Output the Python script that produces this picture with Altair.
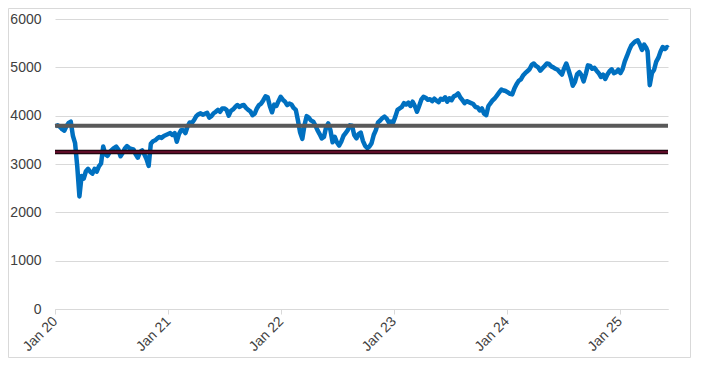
import altair as alt
import pandas as pd

dates = [
    "2020-01-03", "2020-01-10", "2020-01-17", "2020-01-24", "2020-01-31", "2020-02-07", "2020-02-14", "2020-02-21",
    "2020-02-28", "2020-03-06", "2020-03-13", "2020-03-20", "2020-03-27", "2020-04-03", "2020-04-10", "2020-04-17",
    "2020-04-24", "2020-05-01", "2020-05-08", "2020-05-15", "2020-05-22", "2020-05-29", "2020-06-05", "2020-06-12",
    "2020-06-19", "2020-06-26", "2020-07-03", "2020-07-10", "2020-07-17", "2020-07-24", "2020-07-31", "2020-08-07",
    "2020-08-14", "2020-08-21", "2020-08-28", "2020-09-04", "2020-09-11", "2020-09-18", "2020-09-25", "2020-10-02",
    "2020-10-09", "2020-10-16", "2020-10-23", "2020-10-30", "2020-11-06", "2020-11-13", "2020-11-20", "2020-11-27",
    "2020-12-04", "2020-12-11", "2020-12-18", "2020-12-25",
    "2021-01-01", "2021-01-08", "2021-01-15", "2021-01-22", "2021-01-29", "2021-02-05", "2021-02-12", "2021-02-19",
    "2021-02-26", "2021-03-05", "2021-03-12", "2021-03-19", "2021-03-26", "2021-04-02", "2021-04-09", "2021-04-16",
    "2021-04-23", "2021-04-30", "2021-05-07", "2021-05-14", "2021-05-21", "2021-05-28", "2021-06-04", "2021-06-11",
    "2021-06-18", "2021-06-25", "2021-07-02", "2021-07-09", "2021-07-16", "2021-07-23", "2021-07-30", "2021-08-06",
    "2021-08-13", "2021-08-20", "2021-08-27", "2021-09-03", "2021-09-10", "2021-09-17", "2021-09-24", "2021-10-01",
    "2021-10-08", "2021-10-15", "2021-10-22", "2021-10-29", "2021-11-05", "2021-11-12", "2021-11-19", "2021-11-26",
    "2021-12-03", "2021-12-10", "2021-12-17", "2021-12-24", "2021-12-31",
    "2022-01-07", "2022-01-14", "2022-01-21", "2022-01-28", "2022-02-04", "2022-02-11", "2022-02-18", "2022-02-25",
    "2022-03-04", "2022-03-11", "2022-03-18", "2022-03-25", "2022-04-01", "2022-04-08", "2022-04-15", "2022-04-22",
    "2022-04-29", "2022-05-06", "2022-05-13", "2022-05-20", "2022-05-27", "2022-06-03", "2022-06-10", "2022-06-17",
    "2022-06-24", "2022-07-01", "2022-07-08", "2022-07-15", "2022-07-22", "2022-07-29", "2022-08-05", "2022-08-12",
    "2022-08-19", "2022-08-26", "2022-09-02", "2022-09-09", "2022-09-16", "2022-09-23", "2022-09-30", "2022-10-07",
    "2022-10-14", "2022-10-21", "2022-10-28", "2022-11-04", "2022-11-11", "2022-11-18", "2022-11-25", "2022-12-02",
    "2022-12-09", "2022-12-16", "2022-12-23", "2022-12-30",
    "2023-01-06", "2023-01-13", "2023-01-20", "2023-01-27", "2023-02-03", "2023-02-10", "2023-02-17", "2023-02-24",
    "2023-03-03", "2023-03-10", "2023-03-17", "2023-03-24", "2023-03-31", "2023-04-07", "2023-04-14", "2023-04-21",
    "2023-04-28", "2023-05-05", "2023-05-12", "2023-05-19", "2023-05-26", "2023-06-02", "2023-06-09", "2023-06-16",
    "2023-06-23", "2023-06-30", "2023-07-07", "2023-07-14", "2023-07-21", "2023-07-28", "2023-08-04", "2023-08-11",
    "2023-08-18", "2023-08-25", "2023-09-01", "2023-09-08", "2023-09-15", "2023-09-22", "2023-09-29", "2023-10-06",
    "2023-10-13", "2023-10-20", "2023-10-27", "2023-11-03", "2023-11-10", "2023-11-17", "2023-11-24", "2023-12-01",
    "2023-12-08", "2023-12-15", "2023-12-22", "2023-12-29",
    "2024-01-05", "2024-01-12", "2024-01-19", "2024-01-26", "2024-02-02", "2024-02-09", "2024-02-16", "2024-02-23",
    "2024-03-01", "2024-03-08", "2024-03-15", "2024-03-22", "2024-03-29", "2024-04-05", "2024-04-12", "2024-04-19",
    "2024-04-26", "2024-05-03", "2024-05-10", "2024-05-17", "2024-05-24", "2024-05-31", "2024-06-07", "2024-06-14",
    "2024-06-21", "2024-06-28", "2024-07-05", "2024-07-12", "2024-07-19", "2024-07-26", "2024-08-02", "2024-08-09",
    "2024-08-16", "2024-08-23", "2024-08-30", "2024-09-06", "2024-09-13", "2024-09-20", "2024-09-27", "2024-10-04",
    "2024-10-11", "2024-10-18", "2024-10-25", "2024-11-01", "2024-11-08", "2024-11-15", "2024-11-22", "2024-11-29",
    "2024-12-06", "2024-12-13", "2024-12-20", "2024-12-27",
    "2025-01-03", "2025-01-10", "2025-01-17", "2025-01-24", "2025-01-31", "2025-02-07", "2025-02-14", "2025-02-21",
    "2025-02-28", "2025-03-07", "2025-03-14", "2025-03-21", "2025-03-28", "2025-04-01", "2025-04-08", "2025-04-15",
    "2025-04-22", "2025-04-29", "2025-05-06", "2025-05-13", "2025-05-20", "2025-05-27", "2025-06-03", "2025-06-06",
]

values = [
    3780, 3800, 3770, 3720, 3690, 3780, 3850, 3875,
    3580, 3430, 2950, 2330, 2750, 2700, 2850, 2900,
    2840, 2800, 2900, 2840, 2950, 3010, 3360, 3200,
    3170, 3250, 3290, 3330, 3360, 3300, 3160, 3230,
    3320, 3370, 3330, 3310, 3300, 3200, 3130, 3250,
    3280, 3200, 3100, 2960, 3420, 3470, 3490, 3530,
    3560, 3540, 3580, 3600,
    3620, 3640, 3600, 3640, 3460, 3620, 3700, 3700,
    3640, 3780, 3860, 3850, 3910, 3990, 4030, 4050,
    4020, 4040, 4060, 3960, 3990, 4050, 4080, 4120,
    4080, 4150, 4150, 4120, 4000, 4100, 4130, 4180,
    4220, 4180, 4210, 4220, 4160, 4120, 4090, 4010,
    4040, 4150, 4220, 4250, 4320, 4400, 4380, 4200,
    4070, 4230, 4200, 4300, 4390,
    4330, 4290, 4220, 4250, 4230, 4160, 4120, 3900,
    3650, 3520, 3800, 3990, 3960, 3900, 3880, 3800,
    3700, 3620, 3530, 3560, 3760, 3840, 3700, 3450,
    3560, 3450, 3380, 3460, 3580, 3640, 3700, 3800,
    3790, 3600, 3530, 3620, 3650, 3480, 3380, 3330,
    3360, 3430, 3600, 3700, 3860, 3900, 3950, 3980,
    3940, 3860, 3880, 3860,
    3980, 4120, 4150, 4180, 4260, 4230, 4270, 4200,
    4290, 4200, 4080, 4200, 4330, 4390, 4370, 4330,
    4340, 4300, 4350, 4310, 4280, 4350, 4330, 4380,
    4290, 4360, 4320, 4400, 4420, 4460, 4380, 4320,
    4260, 4300, 4280, 4260, 4240, 4180, 4170, 4110,
    4150, 4040, 4010, 4200, 4260, 4320, 4360, 4420,
    4480, 4540, 4520, 4510,
    4480, 4450, 4440, 4560, 4650, 4720, 4750, 4830,
    4880, 4920, 4960, 5050, 5080, 5030, 5000, 4930,
    4980, 5030, 5080, 5070, 5020, 5000, 4970, 4950,
    4900, 4850, 4980, 5080, 4950, 4800, 4620, 4700,
    4860, 4900, 4840, 4710, 4860, 5040, 5030, 4970,
    4990, 4930, 4880, 4800, 4850, 4760, 4850, 4920,
    4960, 4880, 4900, 4950,
    4880, 4960, 5120, 5230, 5350, 5450, 5500, 5540,
    5560, 5470, 5360, 5470, 5400, 5330, 4630, 4880,
    4950, 5120, 5200, 5330, 5420, 5380, 5420, 5400,
]

levels = [3790, 3250]
year_ticks = [2020, 2021, 2022, 2023, 2024, 2025]
y_ticks = [0, 1000, 2000, 3000, 4000, 5000, 6000]

df = pd.DataFrame({"date": dates, "value": values})
lv = pd.DataFrame({"level": levels, "name": ["upper", "lower"]})

x_enc = alt.X(
    "date:T",
    title=None,
    scale=alt.Scale(
        type="utc",
        domain=[alt.DateTime(year=2020, month=1, date=1, utc=True),
                alt.DateTime(year=2025, month=6, date=6, utc=True)],
    ),
    axis=alt.Axis(
        values=[alt.DateTime(year=y, month=1, date=1, utc=True) for y in year_ticks],
        format="%b %y",
        labelAngle=-45,
        labelAlign="right",
        labelBaseline="middle",
        labelPadding=5,
        grid=False,
        domainColor="#d9d9d9",
        tickColor="#d9d9d9",
        tickSize=5,
        labelFontSize=14,
    ),
)
y_enc = alt.Y(
    "value:Q",
    title=None,
    scale=alt.Scale(domain=[0, 6000], nice=False, zero=True),
    axis=alt.Axis(
        values=y_ticks,
        format="d",
        grid=True,
        gridColor="#d9d9d9",
        gridWidth=1,
        domain=False,
        ticks=False,
        labelPadding=14,
        labelFontSize=14,
    ),
)

border = alt.Chart(pd.DataFrame({"a": [0]})).mark_rect(
    fillOpacity=0, stroke="#d9d9d9", strokeWidth=1
).encode(
    x=alt.value(-46.5), x2=alt.value(635.5), y=alt.value(-10.5), y2=alt.value(338.5)
)

line = alt.Chart(df).mark_line(
    color="#0070C0", strokeWidth=4.5, strokeJoin="round"
).encode(x=x_enc, y=y_enc)

gray = alt.Chart(lv).transform_filter("datum.name == 'upper'").mark_rule(
    color="#595959", strokeWidth=4
).encode(y="level:Q")

red_under = alt.Chart(lv).transform_filter("datum.name == 'lower'").mark_rule(
    color="#120408", strokeWidth=4.5
).encode(y="level:Q")

red_top = alt.Chart(lv).transform_filter("datum.name == 'lower'").mark_rule(
    color="#5e0c28", strokeWidth=2.5
).encode(y="level:Q")

chart = alt.layer(border, line, gray, red_under, red_top).properties(
    width=613,
    height=290,
    padding={"left": 47, "top": 11, "right": 23, "bottom": 49},
    autosize=alt.AutoSizeParams(type="none"),
).configure_view(stroke=None).configure_axis(
    labelFont="Liberation Sans",
    labelColor="#404040",
)

chart.save("out.html", embed_options={"renderer": "svg", "actions": False})
